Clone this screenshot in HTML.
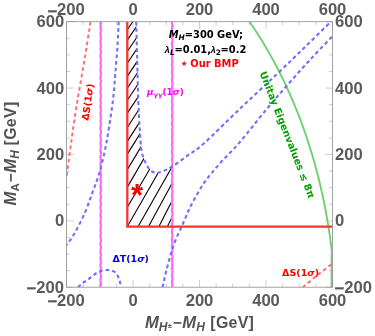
<!DOCTYPE html>
<html><head><meta charset="utf-8"><title>Plot</title>
<style>html,body{margin:0;padding:0;background:#fff;}body{width:375px;height:336px;overflow:hidden;}svg{display:block;}.tk{font-family:"Liberation Sans",Arial,Helvetica,sans-serif;font-weight:bold;font-size:16.6px;fill:#5a5a5a;}.ax{font-family:"Liberation Sans",Arial,Helvetica,sans-serif;font-weight:bold;font-size:15.4px;fill:#525252;}.lm{font-family:"Liberation Sans",sans-serif;font-style:italic;font-weight:bold;font-size:9.6px;}.dj{font-family:"DejaVu Sans","Liberation Sans",sans-serif;font-weight:bold;}</style></head><body>
<svg width="375" height="336" viewBox="0 0 375 336">
<rect x="0" y="0" width="375" height="336" fill="#fff"/>
<defs><clipPath id="fr"><rect x="66.50" y="21.70" width="266.00" height="265.50"/></clipPath>
<clipPath id="hc"><path d="M127.30 21.80 L136.20 21.80 L137.20 60.00 L138.25 100.00 L139.80 130.00 L141.40 150.00 L144.20 159.50 L148.00 167.20 L152.00 171.50 L157.50 172.60 L164.00 170.80 L172.50 166.40 L172.00 166.60 L172.00 226.70 L127.30 226.70 Z"/></clipPath></defs>
<path d="M66.50 287.20V279.90M66.50 21.70V29.00M66.50 287.20H73.80M332.50 287.20H325.20M83.12 287.20V283.60M83.12 21.70V25.30M66.50 270.61H70.10M332.50 270.61H328.90M99.75 287.20V283.60M99.75 21.70V25.30M66.50 254.01H70.10M332.50 254.01H328.90M116.38 287.20V283.60M116.38 21.70V25.30M66.50 237.42H70.10M332.50 237.42H328.90M133.00 287.20V279.90M133.00 21.70V29.00M66.50 220.82H73.80M332.50 220.82H325.20M149.62 287.20V283.60M149.62 21.70V25.30M66.50 204.23H70.10M332.50 204.23H328.90M166.25 287.20V283.60M166.25 21.70V25.30M66.50 187.64H70.10M332.50 187.64H328.90M182.88 287.20V283.60M182.88 21.70V25.30M66.50 171.04H70.10M332.50 171.04H328.90M199.50 287.20V279.90M199.50 21.70V29.00M66.50 154.45H73.80M332.50 154.45H325.20M216.12 287.20V283.60M216.12 21.70V25.30M66.50 137.86H70.10M332.50 137.86H328.90M232.75 287.20V283.60M232.75 21.70V25.30M66.50 121.26H70.10M332.50 121.26H328.90M249.38 287.20V283.60M249.38 21.70V25.30M66.50 104.67H70.10M332.50 104.67H328.90M266.00 287.20V279.90M266.00 21.70V29.00M66.50 88.07H73.80M332.50 88.07H325.20M282.62 287.20V283.60M282.62 21.70V25.30M66.50 71.48H70.10M332.50 71.48H328.90M299.25 287.20V283.60M299.25 21.70V25.30M66.50 54.89H70.10M332.50 54.89H328.90M315.88 287.20V283.60M315.88 21.70V25.30M66.50 38.29H70.10M332.50 38.29H328.90M332.50 287.20V279.90M332.50 21.70V29.00M66.50 21.70H73.80M332.50 21.70H325.20" stroke="#b0b0b0" stroke-width="0.6" fill="none"/>
<g clip-path="url(#fr)" fill="none">
<path clip-path="url(#hc)" d="M127.30 29.70L187.30 -58.50M127.30 40.10L187.30 -48.10M127.30 51.50L187.30 -37.30M127.30 63.30L187.30 -26.70M127.30 76.40L187.30 -14.80M127.30 88.30L187.30 -2.90M127.30 100.20L187.30 10.20M127.30 113.10L187.30 23.10M127.30 127.50L187.30 34.50M127.30 141.40L187.30 47.80M127.30 154.10L187.30 58.10M127.30 169.60L187.30 70.00M127.30 187.20L187.30 84.00M127.30 207.20L187.30 105.20M127.30 226.60L187.30 122.20M138.00 226.70L178.00 156.30M148.40 226.70L188.40 153.50M158.80 226.70L198.80 148.70M167.30 226.70L207.30 146.70" stroke="#000" stroke-width="1.1"/>
<path d="M100.71 21.70 L100.88 22.60 L100.95 23.50 L100.87 24.40 L100.70 25.30 L100.52 26.20 L100.45 27.10 L100.52 28.00 L100.70 28.90 L100.88 29.80 L100.95 30.70 L100.88 31.60 L100.70 32.50 L100.53 33.40 L100.45 34.30 L100.52 35.20 L100.69 36.10 L100.87 37.00 L100.95 37.90 L100.88 38.80 L100.71 39.70 L100.53 40.60 L100.45 41.50 L100.52 42.40 L100.69 43.30 L100.87 44.20 L100.95 45.10 L100.89 46.00 L100.71 46.90 L100.53 47.80 L100.45 48.70 L100.51 49.60 L100.68 50.50 L100.86 51.40 L100.95 52.30 L100.89 53.20 L100.72 54.10 L100.54 55.00 L100.45 55.90 L100.51 56.80 L100.68 57.70 L100.86 58.60 L100.95 59.50 L100.89 60.40 L100.73 61.30 L100.54 62.20 L100.45 63.10 L100.50 64.00 L100.67 64.90 L100.85 65.80 L100.95 66.70 L100.90 67.60 L100.73 68.50 L100.55 69.40 L100.45 70.30 L100.50 71.20 L100.67 72.10 L100.85 73.00 L100.95 73.90 L100.90 74.80 L100.74 75.70 L100.55 76.60 L100.45 77.50 L100.50 78.40 L100.66 79.30 L100.85 80.20 L100.95 81.10 L100.90 82.00 L100.74 82.90 L100.56 83.80 L100.45 84.70 L100.49 85.60 L100.66 86.50 L100.84 87.40 L100.95 88.30 L100.91 89.20 L100.75 90.10 L100.56 91.00 L100.45 91.90 L100.49 92.80 L100.65 93.70 L100.84 94.60 L100.94 95.50 L100.91 96.40 L100.75 97.30 L100.57 98.20 L100.46 99.10 L100.49 100.00 L100.64 100.90 L100.83 101.80 L100.94 102.70 L100.91 103.60 L100.76 104.50 L100.57 105.40 L100.46 106.30 L100.49 107.20 L100.64 108.10 L100.83 109.00 L100.94 109.90 L100.92 110.80 L100.76 111.70 L100.57 112.60 L100.46 113.50 L100.48 114.40 L100.63 115.30 L100.82 116.20 L100.94 117.10 L100.92 118.00 L100.77 118.90 L100.58 119.80 L100.46 120.70 L100.48 121.60 L100.63 122.50 L100.82 123.40 L100.94 124.30 L100.92 125.20 L100.77 126.10 L100.58 127.00 L100.46 127.90 L100.48 128.80 L100.62 129.70 L100.81 130.60 L100.94 131.50 L100.92 132.40 L100.78 133.30 L100.59 134.20 L100.46 135.10 L100.48 136.00 L100.62 136.90 L100.81 137.80 L100.94 138.70 L100.93 139.60 L100.79 140.50 L100.59 141.40 L100.47 142.30 L100.47 143.20 L100.61 144.10 L100.80 145.00 L100.93 145.90 L100.93 146.80 L100.79 147.70 L100.60 148.60 L100.47 149.50 L100.47 150.40 L100.61 151.30 L100.80 152.20 L100.93 153.10 L100.93 154.00 L100.80 154.90 L100.61 155.80 L100.47 156.70 L100.47 157.60 L100.60 158.50 L100.79 159.40 L100.93 160.30 L100.93 161.20 L100.80 162.10 L100.61 163.00 L100.47 163.90 L100.47 164.80 L100.60 165.70 L100.79 166.60 L100.93 167.50 L100.93 168.40 L100.81 169.30 L100.62 170.20 L100.47 171.10 L100.46 172.00 L100.59 172.90 L100.78 173.80 L100.92 174.70 L100.94 175.60 L100.81 176.50 L100.62 177.40 L100.48 178.30 L100.46 179.20 L100.59 180.10 L100.78 181.00 L100.92 181.90 L100.94 182.80 L100.82 183.70 L100.63 184.60 L100.48 185.50 L100.46 186.40 L100.58 187.30 L100.77 188.20 L100.92 189.10 L100.94 190.00 L100.82 190.90 L100.63 191.80 L100.48 192.70 L100.46 193.60 L100.58 194.50 L100.77 195.40 L100.92 196.30 L100.94 197.20 L100.83 198.10 L100.64 199.00 L100.48 199.90 L100.46 200.80 L100.57 201.70 L100.76 202.60 L100.91 203.50 L100.94 204.40 L100.83 205.30 L100.64 206.20 L100.49 207.10 L100.46 208.00 L100.57 208.90 L100.76 209.80 L100.91 210.70 L100.94 211.60 L100.84 212.50 L100.65 213.40 L100.49 214.30 L100.46 215.20 L100.56 216.10 L100.75 217.00 L100.91 217.90 L100.95 218.80 L100.84 219.70 L100.65 220.60 L100.49 221.50 L100.45 222.40 L100.56 223.30 L100.74 224.20 L100.90 225.10 L100.95 226.00 L100.84 226.90 L100.66 227.80 L100.50 228.70 L100.45 229.60 L100.55 230.50 L100.74 231.40 L100.90 232.30 L100.95 233.20 L100.85 234.10 L100.66 235.00 L100.50 235.90 L100.45 236.80 L100.55 237.70 L100.73 238.60 L100.90 239.50 L100.95 240.40 L100.85 241.30 L100.67 242.20 L100.50 243.10 L100.45 244.00 L100.54 244.90 L100.73 245.80 L100.89 246.70 L100.95 247.60 L100.86 248.50 L100.68 249.40 L100.51 250.30 L100.45 251.20 L100.54 252.10 L100.72 253.00 L100.89 253.90 L100.95 254.80 L100.86 255.70 L100.68 256.60 L100.51 257.50 L100.45 258.40 L100.54 259.30 L100.72 260.20 L100.89 261.10 L100.95 262.00 L100.87 262.90 L100.69 263.80 L100.51 264.70 L100.45 265.60 L100.53 266.50 L100.71 267.40 L100.88 268.30 L100.95 269.20 L100.87 270.10 L100.69 271.00 L100.52 271.90 L100.45 272.80 L100.53 273.70 L100.71 274.60 L100.88 275.50 L100.95 276.40 L100.87 277.30 L100.70 278.20 L100.52 279.10 L100.45 280.00 L100.52 280.90 L100.70 281.80 L100.88 282.70 L100.95 283.60 L100.88 284.50 L100.70 285.40 L100.53 286.30 L100.45 287.20M171.96 21.70 L171.97 22.60 L172.11 23.50 L172.30 24.40 L172.43 25.30 L172.43 26.20 L172.29 27.10 L172.10 28.00 L171.97 28.90 L171.97 29.80 L172.11 30.70 L172.30 31.60 L172.43 32.50 L172.43 33.40 L172.29 34.30 L172.10 35.20 L171.97 36.10 L171.97 37.00 L172.10 37.90 L172.29 38.80 L172.43 39.70 L172.43 40.60 L172.30 41.50 L172.11 42.40 L171.97 43.30 L171.97 44.20 L172.10 45.10 L172.29 46.00 L172.43 46.90 L172.43 47.80 L172.30 48.70 L172.11 49.60 L171.97 50.50 L171.97 51.40 L172.09 52.30 L172.28 53.20 L172.43 54.10 L172.44 55.00 L172.31 55.90 L172.12 56.80 L171.98 57.70 L171.96 58.60 L172.09 59.50 L172.28 60.40 L172.42 61.30 L172.44 62.20 L172.31 63.10 L172.12 64.00 L171.98 64.90 L171.96 65.80 L172.08 66.70 L172.27 67.60 L172.42 68.50 L172.44 69.40 L172.32 70.30 L172.13 71.20 L171.98 72.10 L171.96 73.00 L172.08 73.90 L172.27 74.80 L172.42 75.70 L172.44 76.60 L172.32 77.50 L172.13 78.40 L171.98 79.30 L171.96 80.20 L172.07 81.10 L172.26 82.00 L172.42 82.90 L172.44 83.80 L172.33 84.70 L172.14 85.60 L171.99 86.50 L171.96 87.40 L172.07 88.30 L172.26 89.20 L172.41 90.10 L172.44 91.00 L172.33 91.90 L172.15 92.80 L171.99 93.70 L171.96 94.60 L172.06 95.50 L172.25 96.40 L172.41 97.30 L172.44 98.20 L172.34 99.10 L172.15 100.00 L171.99 100.90 L171.95 101.80 L172.06 102.70 L172.25 103.60 L172.41 104.50 L172.45 105.40 L172.34 106.30 L172.16 107.20 L172.00 108.10 L171.95 109.00 L172.06 109.90 L172.24 110.80 L172.40 111.70 L172.45 112.60 L172.35 113.50 L172.16 114.40 L172.00 115.30 L171.95 116.20 L172.05 117.10 L172.24 118.00 L172.40 118.90 L172.45 119.80 L172.35 120.70 L172.17 121.60 L172.00 122.50 L171.95 123.40 L172.05 124.30 L172.23 125.20 L172.40 126.10 L172.45 127.00 L172.36 127.90 L172.17 128.80 L172.01 129.70 L171.95 130.60 L172.04 131.50 L172.22 132.40 L172.39 133.30 L172.45 134.20 L172.36 135.10 L172.18 136.00 L172.01 136.90 L171.95 137.80 L172.04 138.70 L172.22 139.60 L172.39 140.50 L172.45 141.40 L172.36 142.30 L172.18 143.20 L172.01 144.10 L171.95 145.00 L172.03 145.90 L172.21 146.80 L172.39 147.70 L172.45 148.60 L172.37 149.50 L172.19 150.40 L172.02 151.30 L171.95 152.20 L172.03 153.10 L172.21 154.00 L172.38 154.90 L172.45 155.80 L172.37 156.70 L172.20 157.60 L172.02 158.50 L171.95 159.40 L172.03 160.30 L172.20 161.20 L172.38 162.10 L172.45 163.00 L172.38 163.90 L172.20 164.80 L172.02 165.70 L171.95 166.60 L172.02 167.50 L172.20 168.40 L172.37 169.30 L172.45 170.20 L172.38 171.10 L172.21 172.00 L172.03 172.90 L171.95 173.80 L172.02 174.70 L172.19 175.60 L172.37 176.50 L172.45 177.40 L172.38 178.30 L172.21 179.20 L172.03 180.10 L171.95 181.00 L172.01 181.90 L172.19 182.80 L172.37 183.70 L172.45 184.60 L172.39 185.50 L172.22 186.40 L172.04 187.30 L171.95 188.20 L172.01 189.10 L172.18 190.00 L172.36 190.90 L172.45 191.80 L172.39 192.70 L172.22 193.60 L172.04 194.50 L171.95 195.40 L172.01 196.30 L172.17 197.20 L172.36 198.10 L172.45 199.00 L172.40 199.90 L172.23 200.80 L172.05 201.70 L171.95 202.60 L172.00 203.50 L172.17 204.40 L172.35 205.30 L172.45 206.20 L172.40 207.10 L172.23 208.00 L172.05 208.90 L171.95 209.80 L172.00 210.70 L172.16 211.60 L172.35 212.50 L172.45 213.40 L172.40 214.30 L172.24 215.20 L172.05 216.10 L171.95 217.00 L172.00 217.90 L172.16 218.80 L172.34 219.70 L172.45 220.60 L172.41 221.50 L172.25 222.40 L172.06 223.30 L171.95 224.20 L171.99 225.10 L172.15 226.00 L172.34 226.90 L172.45 227.80 L172.41 228.70 L172.25 229.60 L172.06 230.50 L171.96 231.40 L171.99 232.30 L172.15 233.20 L172.33 234.10 L172.44 235.00 L172.41 235.90 L172.26 236.80 L172.07 237.70 L171.96 238.60 L171.99 239.50 L172.14 240.40 L172.33 241.30 L172.44 242.20 L172.41 243.10 L172.26 244.00 L172.07 244.90 L171.96 245.80 L171.98 246.70 L172.14 247.60 L172.32 248.50 L172.44 249.40 L172.42 250.30 L172.27 251.20 L172.08 252.10 L171.96 253.00 L171.98 253.90 L172.13 254.80 L172.32 255.70 L172.44 256.60 L172.42 257.50 L172.27 258.40 L172.08 259.30 L171.96 260.20 L171.98 261.10 L172.13 262.00 L172.32 262.90 L172.44 263.80 L172.42 264.70 L172.28 265.60 L172.09 266.50 L171.96 267.40 L171.98 268.30 L172.12 269.20 L172.31 270.10 L172.44 271.00 L172.43 271.90 L172.28 272.80 L172.09 273.70 L171.96 274.60 L171.97 275.50 L172.11 276.40 L172.31 277.30 L172.43 278.20 L172.43 279.10 L172.29 280.00 L172.10 280.90 L171.97 281.80 L171.97 282.70 L172.11 283.60 L172.30 284.50 L172.43 285.40 L172.43 286.30 L172.29 287.20" stroke="#ff68ff" stroke-width="2.25" stroke-linejoin="round"/>
<path d="M249.50 21.70 L254.01 28.34 L258.32 34.97 L262.46 41.61 L266.43 48.25 L270.24 54.89 L273.89 61.52 L277.41 68.16 L280.78 74.80 L284.02 81.44 L287.13 88.07 L290.12 94.71 L292.98 101.35 L295.74 107.99 L298.38 114.62 L300.91 121.26 L303.33 127.90 L305.66 134.54 L307.88 141.17 L310.01 147.81 L312.03 154.45 L313.97 161.09 L315.82 167.72 L317.57 174.36 L319.24 181.00 L320.82 187.64 L322.31 194.27 L323.73 200.91 L325.06 207.55 L326.30 214.19 L327.47 220.82 L328.56 227.46 L329.57 234.10 L330.50 240.74 L331.35 247.38 L332.13 254.01 L331.60 258.00 L331.60 287.20" stroke="#70d070" stroke-width="1.9" stroke-linejoin="round"/>
<path d="M118.70 21.60 C118.57 24.33 118.13 33.27 117.90 38.00 C117.67 42.73 117.58 46.00 117.30 50.00 C117.02 54.00 116.58 57.33 116.20 62.00 C115.82 66.67 115.53 71.67 115.00 78.00 C114.47 84.33 114.02 91.67 113.00 100.00 C111.98 108.33 110.23 119.67 108.90 128.00 C107.57 136.33 106.57 142.58 105.00 150.00 C103.43 157.42 101.58 165.42 99.50 172.50 C97.42 179.58 94.92 185.83 92.50 192.50 C90.08 199.17 87.92 205.83 85.00 212.50 C82.08 219.17 78.10 227.00 75.00 232.50 C71.90 238.00 67.83 243.33 66.40 245.50" stroke="#7070ff" stroke-width="2.1" stroke-dasharray="3.7 2.9"/>
<path d="M136.20 21.80 C136.37 28.17 136.86 46.97 137.20 60.00 C137.54 73.03 137.82 88.33 138.25 100.00 C138.68 111.67 139.28 121.67 139.80 130.00 C140.33 138.33 140.67 145.08 141.40 150.00 C142.13 154.92 143.10 156.63 144.20 159.50 C145.30 162.37 146.70 165.20 148.00 167.20 C149.30 169.20 150.42 170.60 152.00 171.50 C153.58 172.40 155.50 172.72 157.50 172.60 C159.50 172.48 161.50 171.83 164.00 170.80 C166.50 169.77 168.58 168.93 172.50 166.40 C176.42 163.87 182.29 159.42 187.50 155.60 C192.71 151.78 195.00 151.32 203.75 143.50 C212.50 135.68 227.92 120.17 240.00 108.70 C252.08 97.23 265.42 84.98 276.25 74.70 C287.08 64.42 295.88 55.85 305.00 47.00 C314.12 38.15 326.67 25.83 331.00 21.60" stroke="#7070ff" stroke-width="2.1" stroke-dasharray="3.7 2.9"/>
<path d="M162.50 287.40 C163.17 284.50 165.04 275.82 166.50 270.00 C167.96 264.18 169.67 257.67 171.25 252.50 C172.83 247.33 174.33 243.17 176.00 239.00 C177.67 234.83 179.54 231.33 181.25 227.50 C182.96 223.67 184.58 219.75 186.25 216.00 C187.92 212.25 188.26 210.55 191.25 205.00 C194.24 199.45 199.34 189.73 204.20 182.70 C209.06 175.67 214.57 169.43 220.40 162.80 C226.23 156.17 231.70 151.60 239.20 142.90 C246.70 134.20 257.50 120.08 265.40 110.60 C273.30 101.12 279.17 94.47 286.60 86.00 C294.03 77.53 302.32 68.13 310.00 59.80 C317.68 51.47 328.92 39.97 332.70 36.00" stroke="#7070ff" stroke-width="2.1" stroke-dasharray="3.7 2.9"/>
<path d="M78.00 287.40 C78.75 286.70 80.92 284.43 82.50 283.20 C84.08 281.97 85.83 281.23 87.50 280.00 C89.17 278.77 90.83 277.05 92.50 275.80 C94.17 274.55 95.83 273.37 97.50 272.50 C99.17 271.63 100.83 271.02 102.50 270.60 C104.17 270.18 106.00 270.02 107.50 270.00 C109.00 269.98 110.25 270.13 111.50 270.50 C112.75 270.87 114.03 271.45 115.00 272.20 C115.97 272.95 116.65 273.95 117.30 275.00 C117.95 276.05 118.43 277.25 118.90 278.50 C119.37 279.75 119.77 281.02 120.10 282.50 C120.43 283.98 120.77 286.58 120.90 287.40" stroke="#7070ff" stroke-width="2.1" stroke-dasharray="3.7 2.9"/>
<path d="M90.50 21.80 C89.50 28.17 86.67 46.97 84.50 60.00 C82.33 73.03 79.67 86.67 77.50 100.00 C75.33 113.33 73.35 127.00 71.50 140.00 C69.65 153.00 67.25 171.67 66.40 178.00" stroke="#ff6e6e" stroke-width="1.95" stroke-dasharray="3.7 2.9"/>
<path d="M302.70 287.40 C305.08 285.42 312.03 279.48 317.00 275.50 C321.97 271.52 329.92 265.50 332.50 263.50" stroke="#ff6e6e" stroke-width="1.95" stroke-dasharray="3.7 2.9"/>
<path d="M127.3 21.70V226.7H332.50" stroke="#ff3030" stroke-width="2.3" stroke-linejoin="miter"/>
</g>
<rect x="66.50" y="21.70" width="266.00" height="265.50" fill="none" stroke="#8c8c8c" stroke-width="0.8"/>
<text class="tk" x="66.50" y="305.7" text-anchor="middle"><tspan dy="1.5" dx="-0.4" stroke="#5a5a5a" stroke-width="0.35">−</tspan><tspan dy="-1.5">200</tspan></text>
<text class="tk" x="66.50" y="15.3" text-anchor="middle"><tspan dy="1.5" dx="-0.4" stroke="#5a5a5a" stroke-width="0.35">−</tspan><tspan dy="-1.5">200</tspan></text>
<text class="tk" x="64.3" y="292.80" text-anchor="end"><tspan dy="1.5" dx="-0.4" stroke="#5a5a5a" stroke-width="0.35">−</tspan><tspan dy="-1.5">200</tspan></text>
<text class="tk" x="335.0" y="292.80" text-anchor="start"><tspan dy="1.5" dx="-0.4" stroke="#5a5a5a" stroke-width="0.35">−</tspan><tspan dy="-1.5">200</tspan></text>
<text class="tk" x="133.00" y="305.7" text-anchor="middle">0</text>
<text class="tk" x="133.00" y="15.3" text-anchor="middle">0</text>
<text class="tk" x="64.3" y="226.42" text-anchor="end">0</text>
<text class="tk" x="335.0" y="226.42" text-anchor="start">0</text>
<text class="tk" x="199.50" y="305.7" text-anchor="middle">200</text>
<text class="tk" x="199.50" y="15.3" text-anchor="middle">200</text>
<text class="tk" x="64.3" y="160.05" text-anchor="end">200</text>
<text class="tk" x="335.0" y="160.05" text-anchor="start">200</text>
<text class="tk" x="266.00" y="305.7" text-anchor="middle">400</text>
<text class="tk" x="266.00" y="15.3" text-anchor="middle">400</text>
<text class="tk" x="64.3" y="93.67" text-anchor="end">400</text>
<text class="tk" x="335.0" y="93.67" text-anchor="start">400</text>
<text class="tk" x="332.50" y="305.7" text-anchor="middle">600</text>
<text class="tk" x="332.50" y="15.3" text-anchor="middle">600</text>
<text class="tk" x="64.3" y="27.30" text-anchor="end">600</text>
<text class="tk" x="335.0" y="27.30" text-anchor="start">600</text>
<text class="ax" x="145.0" y="328.1"><tspan font-style="italic" font-size="16.6">M</tspan><tspan font-style="italic" font-size="12" dy="3">H</tspan><tspan font-size="7.5" dy="-3.4" dx="0.3">±</tspan><tspan dy="0.4" dx="0.8">−</tspan><tspan font-style="italic" font-size="16.6" dx="0.6">M</tspan><tspan font-style="italic" font-size="12" dy="3">H</tspan></text>
<text class="ax" x="254.2" y="328.1" text-anchor="end" style="font-size:15.9px" letter-spacing="0.3">[GeV]</text>
<g transform="translate(15.7 205.5) rotate(-90)"><text class="ax" x="0" y="0"><tspan font-style="italic" font-size="16.6">M</tspan><tspan font-size="11.5" dy="3" dx="0.3">A</tspan><tspan dy="-3" dx="0.8">−</tspan><tspan font-style="italic" font-size="16.6" dx="0.6">M</tspan><tspan font-style="italic" font-size="12" dy="3">H</tspan></text>
<text class="ax" x="104" y="0" text-anchor="end" style="font-size:15.9px" letter-spacing="0.3">[GeV]</text></g>
<text class="dj" font-size="9.9" x="168.7" y="38" fill="#000"><tspan font-style="italic">M</tspan><tspan font-style="italic" font-size="7.5" dy="2">H</tspan><tspan dy="-2">=300 GeV;</tspan></text>
<text class="dj" font-size="9.9" x="164.6" y="52.7" fill="#000"><tspan class="lm">λ</tspan><tspan font-style="italic" font-size="7.5" dy="2" dx="0">L</tspan><tspan dy="-2" dx="-0.2">=0.01,</tspan><tspan class="lm" dx="-0.5">λ</tspan><tspan font-size="7.5" dy="2" dx="0">2</tspan><tspan dy="-2" dx="-0.4">=0.2</tspan></text>
<text class="dj" font-size="9.9" x="190.3" y="66.8" fill="#f00">Our BMP</text>
<text class="dj" font-size="7.5" x="184.1" y="66.3" fill="#f00" text-anchor="middle">★</text>
<text class="dj" font-size="9.5" x="112.4" y="262.2" fill="#0000e6">ΔT(1<tspan font-style="italic">σ</tspan>)</text>
<text class="dj" font-size="9.5" x="282.1" y="276" fill="#f00">ΔS(1<tspan font-style="italic">σ</tspan>)</text>
<text class="dj" font-size="9.6" fill="#f00" transform="translate(88.3 121) rotate(-81.4)">ΔS(1<tspan font-style="italic">σ</tspan>)</text>
<text class="dj" font-size="8.9" x="147" y="95.4" fill="#f0f"><tspan font-style="italic">μ</tspan><tspan font-style="italic" font-size="6.6" dy="2">γγ</tspan><tspan dy="-2">(1</tspan><tspan font-style="italic">σ</tspan>)</text>
<text class="dj" font-size="9.8" fill="#00a000" transform="translate(259.6 73) rotate(68.6)">Unitay Eigenvalues ≤ 8π</text>
<text font-family="Liberation Sans,sans-serif" font-weight="bold" font-size="31" x="137" y="206.1" fill="#f00" text-anchor="middle">*</text>
</svg></body></html>
